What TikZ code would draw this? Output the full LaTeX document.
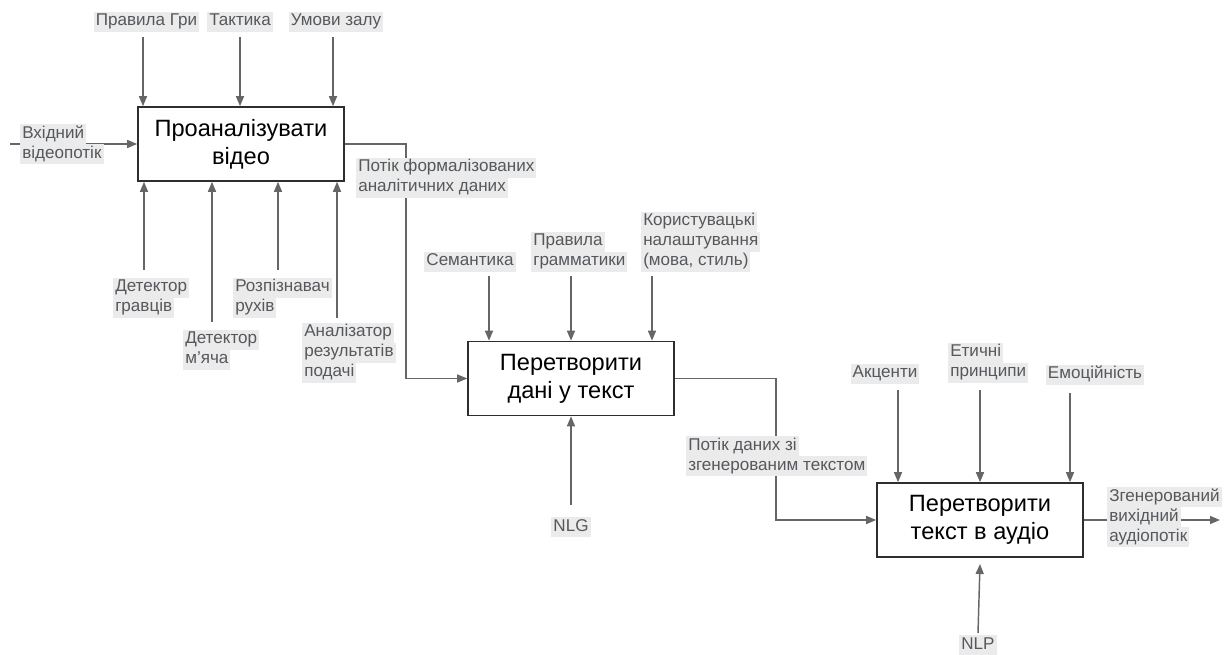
\documentclass[tikz,border=0pt]{standalone}
\usepackage{fontspec}
\setmainfont{Liberation Sans}
\usetikzlibrary{arrows.meta}
\definecolor{labelbg}{HTML}{EBEBEB}
\definecolor{labeltxt}{HTML}{55585C}
\definecolor{wirecol}{HTML}{666666}
\definecolor{framecol}{HTML}{2E2E2E}
% one highlighted line of a flow label
\newcommand\lbl[1]{{\setlength{\fboxsep}{0pt}\colorbox{labelbg}{\hspace{1.5pt}\strut#1\hspace{1.5pt}}}}
\begin{document}
\begin{tikzpicture}[x=0.75pt,y=-0.75pt,
  proc/.style={draw=framecol, line width=1.2pt, fill=white, minimum width=154.5pt,
    minimum height=55.5pt, inner sep=0pt, align=center, font=\fontsize{17.7}{21}\selectfont},
  tag/.style={inner sep=0pt, align=left, text=labeltxt, font=\fontsize{12.8}{15}\selectfont},
  flow/.style={draw=wirecol, line width=1.1pt, -{Triangle[length=7.5pt,width=6pt]}},
  plain/.style={draw=wirecol, line width=1.1pt}]
\useasboundingbox (0,0) rectangle (1227,655);

% activity boxes
\node[proc] (box1) at (241,144) {Проаналізувати\\відео};
\node[proc] (box2) at (571,378.5) {Перетворити\\дані у текст};
\node[proc] (box3) at (980,520) {Перетворити\\текст в аудіо};

% free ends of the connectors
\coordinate (in0) at (10,144);
\coordinate (c11) at (143,37);
\coordinate (c12) at (240,37);
\coordinate (c13) at (333,37);
\coordinate (m11) at (144,270);
\coordinate (m12) at (212,322);
\coordinate (m13) at (278,270);
\coordinate (m14) at (337,318);
\coordinate (turn1) at (406,144);
\coordinate (c21) at (489,276);
\coordinate (c22) at (571,276);
\coordinate (c23) at (652,276);
\coordinate (m21) at (571,505);
\coordinate (turn2) at (776,378.5);
\coordinate (c31) at (898,390);
\coordinate (c32) at (980,390);
\coordinate (c33) at (1070,393);
\coordinate (m31) at (978,633);
\coordinate (m31e) at (980,564);
\coordinate (out3) at (1220,520);

% connectors
\draw[flow] (in0) -- (box1.west);
\foreach \c in {c11,c12,c13} \draw[flow] (\c) -- (\c |- box1.north);
\foreach \m in {m11,m12,m13,m14} \draw[flow] (\m) -- (\m |- box1.south);
\draw[flow] (box1.east) -- (turn1) |- (box2.west);
\foreach \c in {c21,c22,c23} \draw[flow] (\c) -- (\c |- box2.north);
\draw[flow] (m21) -- (m21 |- box2.south);
\draw[flow] (box2.east) -- (turn2) |- (box3.west);
\foreach \c in {c31,c32,c33} \draw[flow] (\c) -- (\c |- box3.north);
\draw[flow] (m31) -- (m31e);
\draw[flow] (box3.east) -- (out3);

% labels
\node[tag] (lrules) at (146.5,22) {\lbl{Правила Гри}};
\node[tag] (ltact) at (240,22) {\lbl{Тактика}};
\node[tag] (lhall) at (336,22) {\lbl{Умови залу}};
\node[tag, anchor=west] (lin) at (20,144.5) {\lbl{Вхідний}\\\lbl{відеопотік}};
\node[tag, anchor=west] (lflow1) at (356,178) {\lbl{Потік формалізованих}\\\lbl{аналітичних даних}};
\node[tag, anchor=west] (lplay) at (113,298) {\lbl{Детектор}\\\lbl{гравців}};
\node[tag, anchor=west] (lball) at (183,350) {\lbl{Детектор}\\\lbl{м’яча}};
\node[tag, anchor=west] (lmove) at (233,298) {\lbl{Розпізнавач}\\\lbl{рухів}};
\node[tag, anchor=west] (lserve) at (302,353) {\lbl{Аналізатор}\\\lbl{результатів}\\\lbl{подачі}};
\node[tag] (lsem) at (470,262) {\lbl{Семантика}};
\node[tag, anchor=west] (lgram) at (531,252) {\lbl{Правила}\\\lbl{грамматики}};
\node[tag, anchor=west] (lpref) at (641,242) {\lbl{Користувацькі}\\\lbl{налаштування}\\\lbl{(мова, стиль)}};
\node[tag] (lnlg) at (571,527) {\lbl{NLG}};
\node[tag, anchor=west] (lflow2) at (686,456) {\lbl{Потік даних зі}\\\lbl{згенерованим текстом}};
\node[tag] (lacc) at (885,374) {\lbl{Акценти}};
\node[tag, anchor=west] (leth) at (948,363) {\lbl{Етичні}\\\lbl{принципи}};
\node[tag] (lemo) at (1095,375) {\lbl{Емоційність}};
\node[tag, anchor=west] (lout) at (1107,517) {\lbl{Згенерований}\\\lbl{вихідний}\\\lbl{аудіопотік}};
\node[tag] (lnlp) at (978,645) {\lbl{NLP}};
\end{tikzpicture}
\end{document}
